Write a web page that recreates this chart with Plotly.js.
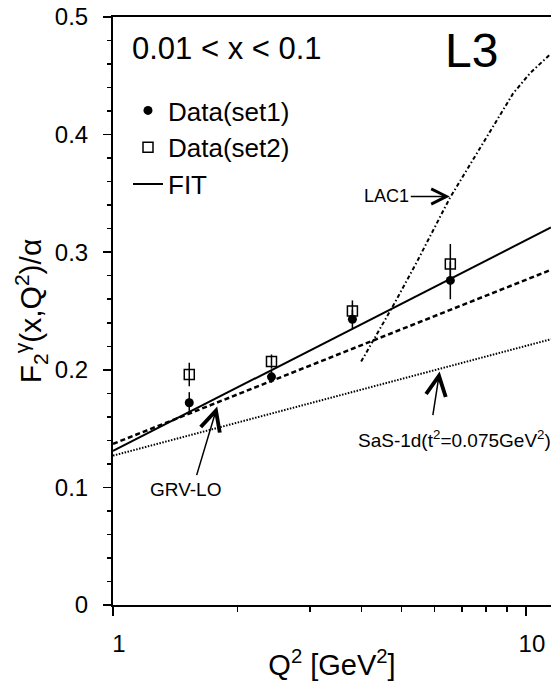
<!DOCTYPE html>
<html>
<head>
<meta charset="utf-8">
<script src="https://cdn.plot.ly/plotly-3.0.1.min.js"></script>
<style>
  html, body { margin: 0; padding: 0; background: #fff; }
  #chart { width: 551px; height: 681px; }
</style>
</head>
<body>
<div id="chart"></div>
<script>
// ---- data ----
const q2Data = [1.53, 2.42, 3.80, 6.56];
const set1Y = [0.172, 0.194, 0.243, 0.276];
const set1Err = [0.009, 0.005, 0.008, 0.016];
const set2Y = [0.196, 0.207, 0.250, 0.290];
const set2Err = [0.010, 0.006, 0.009, 0.017];

const q2Curve = [1, 2, 4, 8, 11.5];
const fitY = [0.131, 0.185, 0.239, 0.293, 0.321];
const grvY = [0.137, 0.179, 0.221, 0.263, 0.285];
const sasY = [0.127, 0.155, 0.183, 0.211, 0.226];

const lacX = [3.99, 4.76, 5.43, 6.54, 7.88, 9.31, 10.22, 11.5];
const lacY = [0.207, 0.254, 0.291, 0.346, 0.393, 0.435, 0.452, 0.469];

const yTickVals = [0, 0.1, 0.2, 0.3, 0.4, 0.5];
const yTickText = ['0', '0.1', '0.2', '0.3', '0.4', '0.5'];
const xTickVals = [1, 10];
const xTickText = ['1', '10'];
const xMinorVals = [2, 3, 4, 5, 6, 7, 8, 9];

const FONT = 'Liberation Sans, Arial, Helvetica, sans-serif';

const traces = [
  { x: q2Curve, y: sasY, mode: 'lines', showlegend: false,
    line: { color: '#000', width: 2, dash: '1.5px,1.5px' } },
  { x: q2Curve, y: grvY, mode: 'lines', showlegend: false,
    line: { color: '#000', width: 2.5, dash: '5px,3px' } },
  { x: lacX, y: lacY, mode: 'lines', showlegend: false,
    line: { color: '#000', width: 2, dash: '4px,2.5px,1.5px,2.5px' } },
  { x: q2Data, y: set1Y, mode: 'markers', name: 'Data(set1)', legendgroup: 'a',
    marker: { symbol: 'circle', size: 9, color: '#000' },
    error_y: { type: 'data', array: set1Err, visible: true, color: '#000', thickness: 1.5, width: 0 } },
  { x: q2Data, y: set2Y, mode: 'markers', name: 'Data(set2)', legendgroup: 'b',
    marker: { symbol: 'square-open', size: 10, color: '#000', line: { width: 1.5, color: '#000' } },
    error_y: { type: 'data', array: set2Err, visible: true, color: '#000', thickness: 1.5, width: 0 } },
  { x: q2Curve, y: fitY, mode: 'lines', name: 'FIT', legendgroup: 'c',
    line: { color: '#000', width: 2 } }
];

const px2x = p => (p - 113) / 438;
const px2y = p => (605 - p) / 588;

const layout = {
  width: 551, height: 681,
  margin: { l: 113, r: 0, t: 17, b: 76 },
  paper_bgcolor: '#fff', plot_bgcolor: '#fff',
  font: { family: FONT, color: '#000' },
  showlegend: true,
  legend: {
    x: px2x(128), y: px2y(87), xanchor: 'left', yanchor: 'top',
    font: { family: FONT, size: 26, color: '#000' },
    bgcolor: 'rgba(0,0,0,0)', borderwidth: 0, tracegroupgap: 8,
    traceorder: 'normal'
  },
  xaxis: {
    type: 'log', range: [0, Math.log10(11.5)],
    showline: true, linewidth: 2, linecolor: '#000', mirror: true,
    showgrid: false, zeroline: false,
    tickmode: 'array', tickvals: xTickVals, ticktext: xTickText,
    ticks: 'outside', ticklen: 9, tickwidth: 1.5, tickcolor: '#000',
    ticklabelstandoff: 7, ticklabelshift: 6,
    tickfont: { family: FONT, size: 24, color: '#000' },
    minor: { tickmode: 'array', tickvals: xMinorVals, ticks: 'outside', ticklen: 5, tickwidth: 1.5, tickcolor: '#000', showgrid: false },
    title: { text: 'Q<sup>2</sup> [GeV<sup>2</sup>]', font: { family: FONT, size: 29, color: '#000' }, standoff: 5 }
  },
  yaxis: {
    range: [0, 0.5],
    showline: true, linewidth: 2, linecolor: '#000', mirror: false,
    showgrid: false, zeroline: false,
    tickmode: 'array', tickvals: yTickVals, ticktext: yTickText,
    ticks: 'outside', ticklen: 8, tickwidth: 1.5, tickcolor: '#000',
    ticklabelstandoff: 10,
    tickfont: { family: FONT, size: 24, color: '#000' },
    minor: { dtick: 0.02, ticks: 'outside', ticklen: 4, tickwidth: 1.5, tickcolor: '#000', showgrid: false },
    title: { text: 'F<sub>2</sub><sup>γ</sup>(x,Q<sup>2</sup>)/α', font: { family: FONT, size: 30, color: '#000' }, standoff: 4 }
  },
  annotations: [
    { xref: 'paper', yref: 'paper', x: px2x(130), y: px2y(48), xanchor: 'left', yanchor: 'middle',
      text: '0.01 &lt; x &lt; 0.1', showarrow: false, font: { family: FONT, size: 31, color: '#000' } },
    { xref: 'paper', yref: 'paper', x: px2x(443), y: px2y(50), xanchor: 'left', yanchor: 'middle',
      text: 'L3', showarrow: false, font: { family: FONT, size: 48, color: '#000' } },
    { x: Math.log10(6.54), y: 0.3474, text: 'LAC1', showarrow: true, ax: -63, ay: 0,
      arrowhead: 5, arrowsize: 2, arrowwidth: 1.5, arrowcolor: '#000',
      font: { family: FONT, size: 18, color: '#000' } },
    { xref: 'paper', yref: 'paper', x: px2x(185.5), y: px2y(489.5), xanchor: 'center', yanchor: 'middle',
      text: 'GRV-LO', showarrow: false,
      font: { family: FONT, size: 19, color: '#000' } },
    { x: Math.log10(1.788), y: 0.1687, text: '', showarrow: true, ax: -21, ay: 70,
      arrowhead: 5, arrowsize: 2.6, arrowwidth: 1.5, arrowcolor: '#000' },
    { xref: 'paper', yref: 'paper', x: px2x(454), y: px2y(438.5), xanchor: 'center', yanchor: 'middle',
      text: 'SaS-1d(t<sup>2</sup>=0.075GeV<sup>2</sup>)', showarrow: false,
      font: { family: FONT, size: 19, color: '#000' } },
    { x: Math.log10(6.18), y: 0.1985, text: '', showarrow: true, ax: -7, ay: 45,
      arrowhead: 5, arrowsize: 2.6, arrowwidth: 1.5, arrowcolor: '#000' }
  ]
};

Plotly.newPlot('chart', traces, layout, { displayModeBar: false, staticPlot: true });
</script>
</body>
</html>
